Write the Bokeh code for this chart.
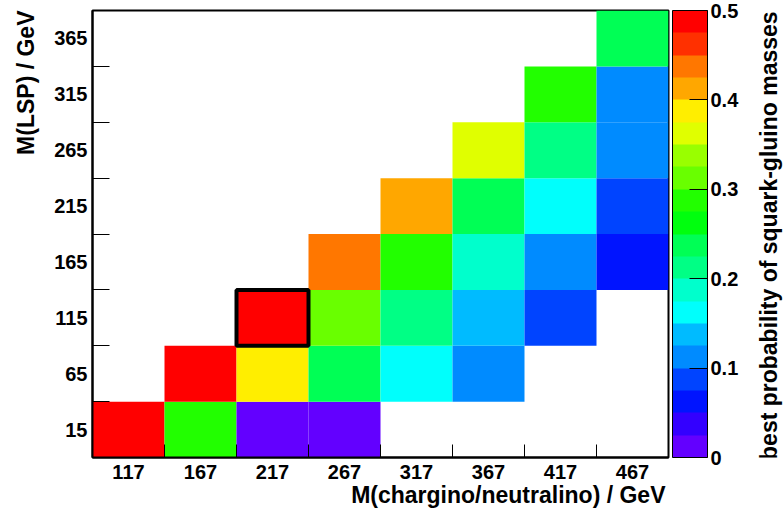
import math
from bokeh.plotting import figure
from bokeh.layouts import row
from bokeh.models import (ColumnDataSource, LinearColorMapper, ColorBar, FixedTicker,
                          CustomJSTickFormatter, Range1d, Title)
from bokeh.core.properties import value
from bokeh.transform import transform
from bokeh.embed import file_html
from bokeh.resources import INLINE

# ---- data -------------------------------------------------------------
x_labels = ["117", "167", "217", "267", "317", "367", "417", "467"]
y_labels = ["15", "65", "115", "165", "215", "265", "315", "365"]

cell_x = ["117", "167", "217", "267",
          "167", "217", "267", "317", "367",
          "217", "267", "317", "367", "417",
          "267", "317", "367", "417", "467",
          "317", "367", "417", "467",
          "367", "417", "467",
          "417", "467",
          "467"]
cell_y = ["15", "15", "15", "15",
          "65", "65", "65", "65", "65",
          "115", "115", "115", "115", "115",
          "165", "165", "165", "165", "165",
          "215", "215", "215", "215",
          "265", "265", "265",
          "315", "315",
          "365"]
cell_val = [0.49, 0.29, 0.01, 0.01,
            0.49, 0.39, 0.24, 0.16, 0.11,
            0.49, 0.31, 0.21, 0.14, 0.09,
            0.44, 0.29, 0.19, 0.11, 0.06,
            0.41, 0.24, 0.16, 0.09,
            0.36, 0.21, 0.11,
            0.29, 0.11,
            0.24]

best_x = ["217"]
best_y = ["115"]

z_ticks = [0.0, 0.1, 0.2, 0.3, 0.4, 0.5]

x_title = "M(chargino/neutralino) / GeV"
y_title = "M(LSP) / GeV"
z_title = "best probability of squark-gluino masses"

# ROOT "pretty" palette, 20 contour levels (violet -> red)
palette = ["#6300FF", "#3300FF", "#0014FF", "#0044FF", "#008BFF",
           "#00BBFF", "#00FFFC", "#00FFCC", "#00FF85", "#00FF55",
           "#00FF0E", "#22FF00", "#69FF00", "#99FF00", "#E0FF00",
           "#FFEE00", "#FFA700", "#FF7700", "#FF3000", "#FF0000"]

FONT = "Liberation Sans"

# ---- bin index -> bin centre -----------------------------------------
xc = [x_labels.index(v) + 0.5 for v in cell_x]
yc = [y_labels.index(v) + 0.5 for v in cell_y]
src = ColumnDataSource(dict(x=xc, y=yc, v=cell_val))

MAIN_W = 92 + 576 + 77
p = figure(frame_width=576, frame_height=447,
           x_range=Range1d(0, len(x_labels)), y_range=Range1d(0, len(y_labels)),
           output_backend="svg", toolbar_location=None,
           min_border_left=92, min_border_top=10, min_border_bottom=59,
           min_border_right=77)
p.background_fill_color = "white"
p.border_fill_color = "white"
p.outline_line_color = "black"
p.outline_line_width = 2
p.grid.visible = False

mapper = LinearColorMapper(palette=palette, low=0.0, high=0.5)
p.rect(x="x", y="y", width=1, height=1, source=src,
       fill_color=transform("v", mapper), line_color=None)

bx = [x_labels.index(v) + 0.5 for v in best_x]
by = [y_labels.index(v) + 0.5 for v in best_y]
p.rect(x=bx, y=by, width=1, height=1, fill_color=None,
       line_color="black", line_width=4)

# axes: labels at bin centres, tick marks at bin edges
for ax, labels, ticklen in ((p.xaxis[0], x_labels, 13), (p.yaxis[0], y_labels, 17)):
    centers = [i + 0.5 for i in range(len(labels))]
    edges = [float(i) for i in range(1, len(labels))]
    ax.ticker = FixedTicker(ticks=centers, minor_ticks=edges)
    ax.major_label_overrides = {c: l for c, l in zip(centers, labels)}
    ax.major_tick_in = 0
    ax.major_tick_out = 0
    ax.minor_tick_in = ticklen
    ax.minor_tick_out = 0
    ax.minor_tick_line_color = "black"
    ax.minor_tick_line_width = 1
    ax.axis_line_color = "black"
    ax.axis_line_width = 2
    ax.major_label_text_font = FONT
    ax.major_label_text_font_style = "bold"
    ax.major_label_text_font_size = "20px"
    ax.major_label_text_color = "black"
p.xaxis.major_label_standoff = 7
p.yaxis.major_label_standoff = 5

cbar = ColorBar(color_mapper=mapper, width=35, height=447,
                ticker=FixedTicker(ticks=z_ticks),
                formatter=CustomJSTickFormatter(code="return tick == 0 ? '0' : tick.toFixed(1);"),
                major_tick_in=18, major_tick_out=0, major_tick_line_color="black",
                minor_tick_line_color=None,
                bar_line_color="black", bar_line_width=1,
                label_standoff=3, padding=0, margin=0, location=(4, 0),
                major_label_text_font=FONT, major_label_text_font_style="bold",
                major_label_text_font_size="20px", major_label_text_color="black",
                background_fill_color=None, border_line_color=None)
p.add_layout(cbar, "right")

title_kw = dict(text_font=FONT, text_font_style="bold", text_font_size="23px",
                text_color="black")
p.add_layout(Title(text=x_title, align="right", vertical_align="top",
                   standoff=0, offset=3, **title_kw), "below")
p.add_layout(Title(text=y_title, align="right", vertical_align="top",
                   standoff=22, offset=0, **title_kw), "left")

# narrow strip to the right holding the colour-bar title (reads bottom-to-top)
T_W = 784 - MAIN_W
t = figure(width=T_W, height=516, x_range=Range1d(0, T_W), y_range=Range1d(0, 516),
           x_axis_type=None, y_axis_type=None, output_backend="svg",
           toolbar_location=None, min_border=0)
t.outline_line_color = None
t.grid.visible = False
t.background_fill_color = "white"
t.border_fill_color = "white"
t.text(x=[768 - MAIN_W], y=[516 - 1], text=[z_title], angle=math.pi / 2,
       text_align="right", text_baseline="alphabetic",
       text_font=value(FONT), text_font_style="bold", text_font_size="23px",
       text_color="black")

layout = row(p, t)
open("out.html", "w").write(file_html(layout, INLINE))
